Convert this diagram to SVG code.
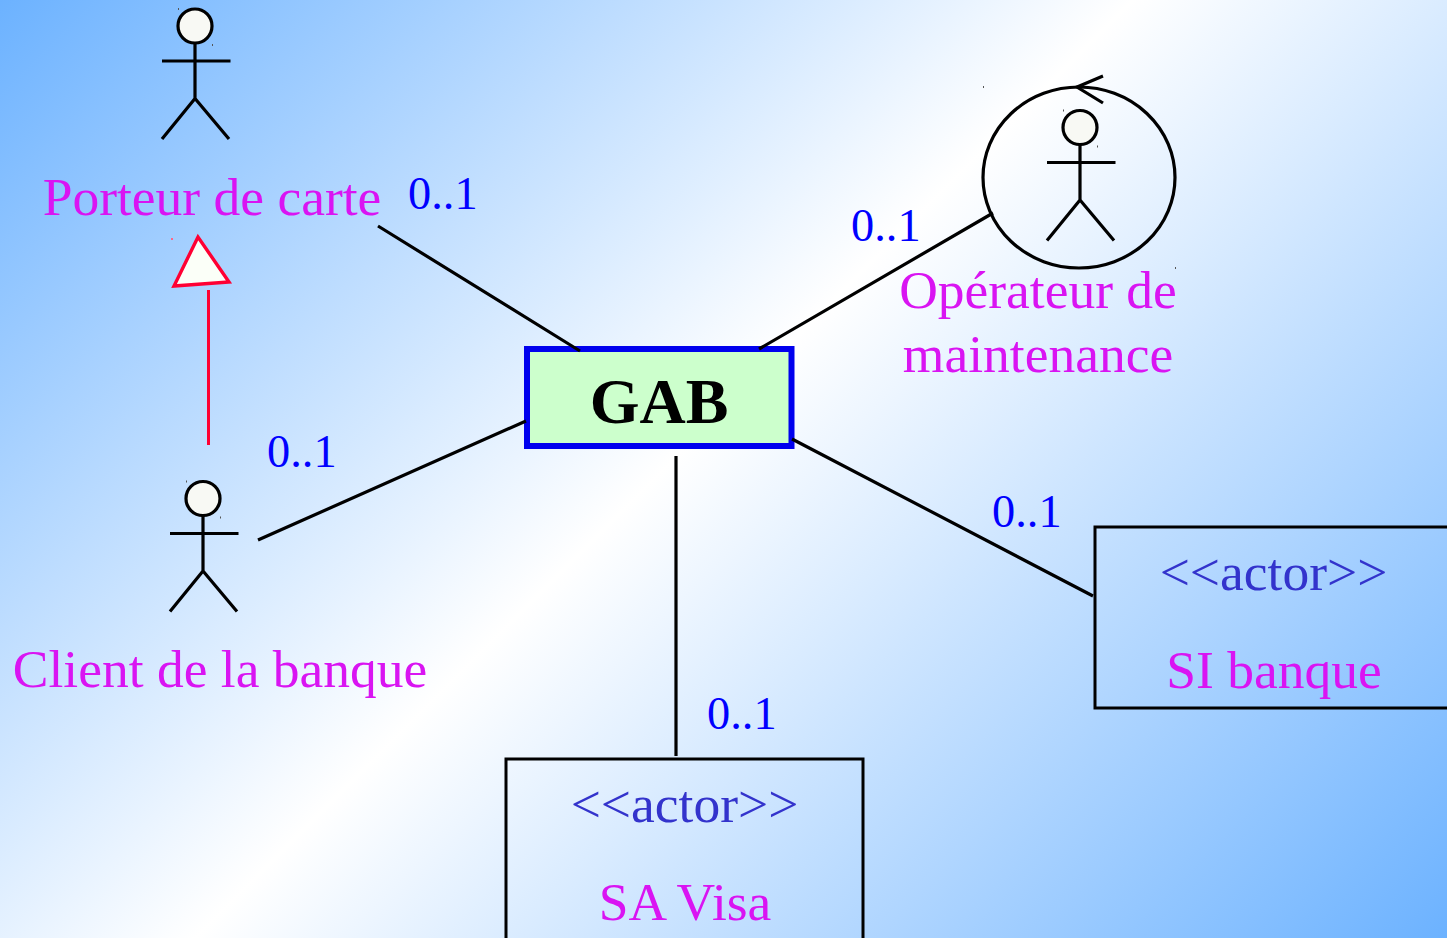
<svg xmlns="http://www.w3.org/2000/svg" width="1447" height="938" viewBox="0 0 1447 938">
<style>
text{font-family:"Liberation Serif","Times New Roman",serif}
.n{font-size:53.500px;fill:#d914f2;text-anchor:middle}
.m{font-size:46.400px;fill:#0000ff}
.s{font-size:53.500px;fill:#3333cc;text-anchor:middle}
.l{fill:none;stroke:#000;stroke-width:3.200}
.h{fill:#f8f9f4;stroke:#000;stroke-width:3.200}
.d{fill:#555}
</style>
<defs>
<linearGradient id="bg" gradientUnits="userSpaceOnUse" x1="0" y1="0" x2="1192.500" y2="1192.500">
<stop offset="0" stop-color="#6cb2ff"/><stop offset="0.475" stop-color="#ffffff"/><stop offset="1" stop-color="#6cb2ff"/>
</linearGradient>
<g id="actor">
<circle class="h" cx="0" cy="-71" r="17"/>
<path class="l" d="M0-54V1.500M-33-36H35.500M-33 42L0 1.500L34 42"/>
<rect class="d" x="-17" y="-89" width="1" height="2"/>
<rect class="d" x="17" y="-53" width="1" height="2"/>
</g>
</defs>
<rect width="1447" height="938" fill="url(#bg)"/>
<g id="porteur"><use href="#actor" x="195" y="97"/><text class="n" x="212" y="215">Porteur de carte</text></g>
<g id="client"><use href="#actor" x="203" y="569.500"/><text class="n" x="220" y="687">Client de la banque</text></g>
<g id="operateur">
<ellipse class="l" cx="1079" cy="177.500" rx="96" ry="90.500"/>
<path class="l" d="M1103 76L1077 87L1103 103"/>
<use href="#actor" x="1080" y="198.500"/>
<rect class="d" x="983" y="86" width="1" height="2"/>
<rect class="d" x="1175" y="267" width="1" height="2"/>
<text class="n" x="1038" y="308">Opérateur de</text>
<text class="n" x="1038" y="372">maintenance</text>
</g>
<g id="gab">
<rect x="527" y="349" width="264.500" height="97" fill="#ccffcc" stroke="#0000ee" stroke-width="6"/>
<text x="659" y="423" font-size="64" font-weight="700" text-anchor="middle" fill="#000">GAB</text>
</g>
<g id="si-banque">
<rect x="1095" y="527" width="360" height="181" fill="none" stroke="#000" stroke-width="3"/>
<text class="s" x="1273.500" y="590">&lt;&lt;actor&gt;&gt;</text>
<text class="n" x="1274" y="688">SI banque</text>
</g>
<g id="sa-visa">
<rect x="506" y="759" width="357" height="190" fill="none" stroke="#000" stroke-width="3"/>
<text class="s" x="684.500" y="822">&lt;&lt;actor&gt;&gt;</text>
<text class="n" x="685" y="920">SA Visa</text>
</g>
<g id="multiplicities">
<text class="m" x="408" y="209">0..1</text>
<text class="m" x="851" y="241">0..1</text>
<text class="m" x="267" y="467">0..1</text>
<text class="m" x="992" y="527">0..1</text>
<text class="m" x="707" y="729">0..1</text>
</g>
<g id="connectors">
<path class="l" d="M378 226L580 351M993 213L759 349M526 421L258 540M676 456V756M792 439L1093 596"/>
<path fill="none" stroke="#ff0033" stroke-width="3" d="M208.500 290V445"/>
<path fill="#fbfff8" stroke="#ff0033" stroke-width="3.400" d="M198 237L174 286L229 282Z"/>
<rect x="171" y="238" width="2" height="2" fill="#ff6688"/>
</g>
</svg>
